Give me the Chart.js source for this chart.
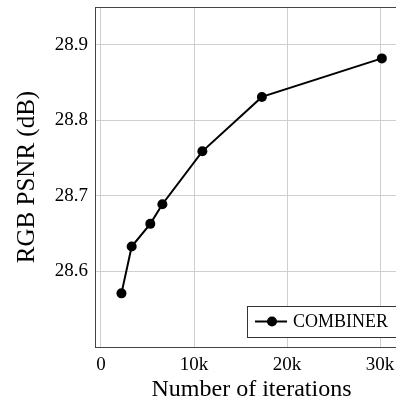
<!DOCTYPE html>
<html>
<head>
<meta charset="utf-8">
<script src="https://cdn.jsdelivr.net/npm/chart.js@4"></script>
<style>
  html, body { margin: 0; padding: 0; background: #fff; overflow: hidden; width: 396px; height: 400px; }
  canvas { display: block; }
</style>
</head>
<body>
<!-- the plot runs a little past the right edge of the picture, as in the original -->
<canvas id="psnrChart" width="408" height="400"></canvas>
<script>
// values
const iterations = [2200, 3300, 5300, 6600, 10900, 17300, 30200];
const psnr = [28.571, 28.633, 28.663, 28.689, 28.759, 28.831, 28.882];
const seriesLabel = 'COMBINER';
const xTicks = [0, 10000, 20000, 30000];
const yTicks = [28.6, 28.7, 28.8, 28.9];

const serif = "'Liberation Serif', 'Times New Roman', serif";

// legend drawn inside the plot, bottom right
const insideLegend = {
    id: 'insideLegend',
    afterDraw(chart) {
        const { ctx, chartArea } = chart;
        const left = chartArea.left + 152;
        const top = chartArea.bottom - 41;
        const h = 31;
        const cy = top + h / 2;
        ctx.save();
        ctx.fillStyle = '#fff';
        ctx.fillRect(left, top, chartArea.right + 5 - left, h);
        ctx.strokeStyle = '#333';
        ctx.lineWidth = 1;
        ctx.strokeRect(left + 0.5, top + 0.5, chartArea.right + 5 - left, h);
        ctx.strokeStyle = '#000';
        ctx.lineWidth = 2;
        ctx.beginPath();
        ctx.moveTo(left + 8, cy);
        ctx.lineTo(left + 40, cy);
        ctx.stroke();
        ctx.fillStyle = '#000';
        ctx.beginPath();
        ctx.arc(left + 25, cy, 5, 0, Math.PI * 2);
        ctx.fill();
        ctx.font = '18px ' + serif;
        ctx.textBaseline = 'middle';
        ctx.fillText(chart.data.datasets[0].label, left + 46, cy + 1);
        ctx.restore();
    }
};

const noPad = s => { s.paddingTop = 0; s.paddingBottom = 0; s.paddingLeft = 0; s.paddingRight = 0; };

const ctx = document.getElementById('psnrChart').getContext('2d');

new Chart(ctx, {
    type: 'line',
    data: {
        datasets: [{
            label: seriesLabel,
            data: iterations.map((x, i) => ({ x: x, y: psnr[i] })),
            borderColor: '#000',
            backgroundColor: '#000',
            borderWidth: 2,
            pointRadius: 5,
            pointBackgroundColor: '#000',
            pointBorderWidth: 0,
            tension: 0
        }]
    },
    options: {
        responsive: false,
        animation: false,
        devicePixelRatio: 1,
        layout: { padding: 0, autoPadding: false },
        plugins: {
            legend: { display: false },
            tooltip: { enabled: false }
        },
        scales: {
            x: {
                type: 'linear',
                position: 'bottom',
                min: -645,
                max: 33010,
                afterBuildTicks: s => { s.ticks = xTicks.map(v => ({ value: v })); },
                afterFit: s => { s.height = 53; noPad(s); },
                ticks: {
                    color: '#000',
                    padding: 7,
                    font: { family: serif, size: 19 },
                    callback: v => v === 0 ? '0' : (v / 1000) + 'k'
                },
                grid: { color: '#cfcfcf', lineWidth: 1, drawTicks: false },
                border: { color: '#444', width: 1 },
                title: {
                    display: true,
                    text: 'Number of iterations',
                    color: '#000',
                    font: { family: serif, size: 24 },
                    padding: { top: 0, bottom: -4 }
                }
            },
            xTop: {
                type: 'linear',
                position: 'top',
                afterFit: s => { s.height = 7; noPad(s); },
                ticks: { display: false },
                grid: { display: false, drawTicks: false },
                border: { color: '#444', width: 1 }
            },
            y: {
                type: 'linear',
                min: 28.5,
                max: 28.95,
                afterBuildTicks: s => { s.ticks = yTicks.map(v => ({ value: v })); },
                afterFit: s => { s.width = 95; noPad(s); },
                ticks: {
                    color: '#000',
                    padding: 7,
                    font: { family: serif, size: 19 },
                    callback: v => v.toFixed(1)
                },
                grid: { color: '#cfcfcf', lineWidth: 1, drawTicks: false },
                border: { color: '#444', width: 1 },
                title: {
                    display: true,
                    text: 'RGB PSNR (dB)',
                    color: '#000',
                    font: { family: serif, size: 25 },
                    padding: { top: 12, bottom: 0 }
                }
            }
        }
    },
    plugins: [insideLegend]
});
</script>
</body>
</html>
